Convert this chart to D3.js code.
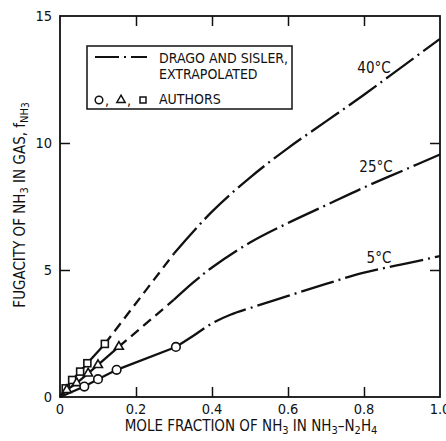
<!DOCTYPE html>
<html>
<head>
<meta charset="utf-8">
<script src="https://cdn.jsdelivr.net/npm/d3@7"></script>
<style>
  body { margin: 0; background: #fff; }
  text { font-family: "Liberation Sans Narrow", "DejaVu Sans Condensed", sans-serif; fill: #111; }
</style>
</head>
<body>
<div id="chart"></div>
<script>
// data
const xTicks = [0, 0.2, 0.4, 0.6, 0.8, 1.0];
const xTickLabels = ["0", "0.2", "0.4", "0.6", "0.8", "1.0"];
const yTicks = [0, 5, 10, 15];

// authors' points
const squaresX = [0.015, 0.032, 0.053, 0.072, 0.118];
const squaresY = [0.34, 0.67, 1.0, 1.33, 2.09];
const trianglesX = [0.018, 0.044, 0.074, 0.10, 0.155];
const trianglesY = [0.28, 0.55, 0.93, 1.26, 1.98];
const circlesX = [0.064, 0.10, 0.149, 0.305];
const circlesY = [0.41, 0.70, 1.07, 1.97];

// dashed joins (last point to start of extrapolation)
const dash40X = [0.118, 0.30];
const dash40Y = [2.09, 5.65];
const dash25X = [0.155, 0.30];
const dash25Y = [1.98, 3.83];

// Drago and Sisler, extrapolated
const ds40X = [0.30, 0.4, 0.5, 0.6, 0.7, 0.8, 0.9, 1.0];
const ds40Y = [5.65, 7.3, 8.64, 9.8, 10.85, 11.9, 13.0, 14.1];
const ds25X = [0.30, 0.35, 0.4, 0.5, 0.6, 0.7, 0.8, 0.9, 1.0];
const ds25Y = [3.83, 4.5, 5.1, 6.08, 6.85, 7.55, 8.25, 8.9, 9.55];
const ds5X = [0.305, 0.35, 0.4, 0.45, 0.5, 0.6, 0.7, 0.8, 0.9, 1.0];
const ds5Y = [1.97, 2.4, 2.9, 3.25, 3.5, 3.98, 4.45, 4.9, 5.22, 5.55];

const width = 446, height = 441;
const mLeft = 60, mRight = 440, mTop = 16, mBottom = 397;

const svg = d3.select("#chart").append("svg")
  .attr("width", width).attr("height", height);

const x = d3.scaleLinear().domain([0, 1]).range([mLeft, mRight]);
const y = d3.scaleLinear().domain([0, 15]).range([mBottom, mTop]);

const zip = (xs, ys) => xs.map((v, i) => [v, ys[i]]);
const line = d3.line().x(d => x(d[0])).y(d => y(d[1])).curve(d3.curveCatmullRom.alpha(0.5));
const straight = d3.line().x(d => x(d[0])).y(d => y(d[1]));

// frame
svg.append("rect")
  .attr("x", mLeft).attr("y", mTop)
  .attr("width", mRight - mLeft).attr("height", mBottom - mTop)
  .attr("fill", "none").attr("stroke", "#111").attr("stroke-width", 1.8);

// inward ticks on all four sides
const tk = 10;
const innerX = xTicks.slice(1, -1);
const innerY = yTicks.slice(1, -1);
svg.append("g").call(d3.axisBottom(x).tickValues(innerX).tickSize(-tk).tickFormat(""))
  .attr("transform", `translate(0,${mBottom})`);
svg.append("g").call(d3.axisTop(x).tickValues(innerX).tickSize(-tk).tickFormat(""))
  .attr("transform", `translate(0,${mTop})`);
svg.append("g").call(d3.axisLeft(y).tickValues(innerY).tickSize(-tk).tickFormat(""))
  .attr("transform", `translate(${mLeft},0)`);
svg.append("g").call(d3.axisRight(y).tickValues(innerY).tickSize(-tk).tickFormat(""))
  .attr("transform", `translate(${mRight},0)`);
svg.selectAll(".domain").remove();
svg.selectAll(".tick line").attr("stroke", "#111").attr("stroke-width", 1.5);

// tick labels
svg.append("g").selectAll("text").data(xTicks).join("text")
  .attr("x", d => x(d)).attr("y", mBottom + 17)
  .attr("text-anchor", "middle").attr("font-size", 14.5)
  .text((d, i) => xTickLabels[i]);
svg.append("g").selectAll("text").data(yTicks).join("text")
  .attr("x", mLeft - 8).attr("y", d => y(d) + 5)
  .attr("text-anchor", "end").attr("font-size", 14.5)
  .text(d => d);

// axis titles
const xt = svg.append("text").attr("x", 251).attr("y", 431)
  .attr("text-anchor", "middle").attr("font-size", 15);
xt.append("tspan").text("MOLE FRACTION OF NH");
xt.append("tspan").attr("dy", 3).attr("font-size", 11).text("3");
xt.append("tspan").attr("dy", -3).text(" IN NH");
xt.append("tspan").attr("dy", 3).attr("font-size", 11).text("3");
xt.append("tspan").attr("dy", -3).text("\u2013N");
xt.append("tspan").attr("dy", 3).attr("font-size", 11).text("2");
xt.append("tspan").attr("dy", -3).text("H");
xt.append("tspan").attr("dy", 3).attr("font-size", 11).text("4");

const yt = svg.append("text").attr("transform", "translate(25,205) rotate(-90)")
  .attr("text-anchor", "middle").attr("font-size", 15);
yt.append("tspan").text("FUGACITY OF NH");
yt.append("tspan").attr("dy", 3).attr("font-size", 11).text("3");
yt.append("tspan").attr("dy", -3).text(" IN GAS, f");
yt.append("tspan").attr("dy", 3).attr("font-size", 11).text("NH");
yt.append("tspan").attr("font-size", 10).attr("dy", 1).text("3");

// curves
const plot = svg.append("g").attr("fill", "none").attr("stroke", "#111").attr("stroke-width", 2.3);
plot.append("path").attr("d", straight([[0, 0], ...zip(squaresX, squaresY)]));
plot.append("path").attr("d", straight([[0, 0], ...zip(trianglesX, trianglesY)]));
plot.append("path").attr("d", straight([[0, 0], ...zip(circlesX, circlesY)]));
plot.append("path").attr("d", straight(zip(dash40X, dash40Y))).attr("stroke-dasharray", "10,6");
plot.append("path").attr("d", straight(zip(dash25X, dash25Y))).attr("stroke-dasharray", "10,6");
[[ds40X, ds40Y], [ds25X, ds25Y], [ds5X, ds5Y]].forEach(([xs, ys]) => {
  plot.append("path").attr("d", line(zip(xs, ys))).attr("stroke-dasharray", "34,5,2,5");
});

// markers
const mk = svg.append("g").attr("fill", "#fff").attr("stroke", "#111").attr("stroke-width", 1.6);
mk.selectAll("rect").data(zip(squaresX, squaresY)).join("rect")
  .attr("x", d => x(d[0]) - 3.5).attr("y", d => y(d[1]) - 3.5)
  .attr("width", 7).attr("height", 7);
const tri = d3.symbol().type(d3.symbolTriangle).size(34);
mk.selectAll("path").data(zip(trianglesX, trianglesY)).join("path")
  .attr("d", tri).attr("transform", d => `translate(${x(d[0])},${y(d[1])})`);
mk.selectAll("circle").data(zip(circlesX, circlesY)).join("circle")
  .attr("cx", d => x(d[0])).attr("cy", d => y(d[1])).attr("r", 4.3);

// temperature labels
const tLabels = [["40\u00b0C", 374, 73], ["25\u00b0C", 376, 172], ["5\u00b0C", 379, 263]];
svg.append("g").selectAll("text").data(tLabels).join("text")
  .attr("x", d => d[1]).attr("y", d => d[2])
  .attr("text-anchor", "middle").attr("font-size", 15)
  .text(d => d[0]);

// legend
const lg = svg.append("g");
lg.append("rect").attr("x", 87).attr("y", 46).attr("width", 205).attr("height", 63)
  .attr("fill", "#fff").attr("stroke", "#111").attr("stroke-width", 1.5);
lg.append("line").attr("x1", 95).attr("x2", 147).attr("y1", 57).attr("y2", 57)
  .attr("stroke", "#111").attr("stroke-width", 2.2).attr("stroke-dasharray", "24,5,2,5");
lg.append("text").attr("x", 159).attr("y", 63).attr("font-size", 14).text("DRAGO AND SISLER,");
lg.append("text").attr("x", 159).attr("y", 79).attr("font-size", 14).text("EXTRAPOLATED");
lg.append("text").attr("x", 159).attr("y", 104).attr("font-size", 14).text("AUTHORS");
lg.append("circle").attr("cx", 99).attr("cy", 100).attr("r", 3.8)
  .attr("fill", "none").attr("stroke", "#111").attr("stroke-width", 1.5);
lg.append("path").attr("d", d3.symbol().type(d3.symbolTriangle).size(30))
  .attr("transform", "translate(121,100)")
  .attr("fill", "none").attr("stroke", "#111").attr("stroke-width", 1.5);
lg.append("rect").attr("x", 140).attr("y", 97).attr("width", 6).attr("height", 6)
  .attr("fill", "none").attr("stroke", "#111").attr("stroke-width", 1.5);
lg.append("text").attr("x", 105).attr("y", 105).attr("font-size", 14).text(",");
lg.append("text").attr("x", 127).attr("y", 105).attr("font-size", 14).text(",");
</script>
</body>
</html>
